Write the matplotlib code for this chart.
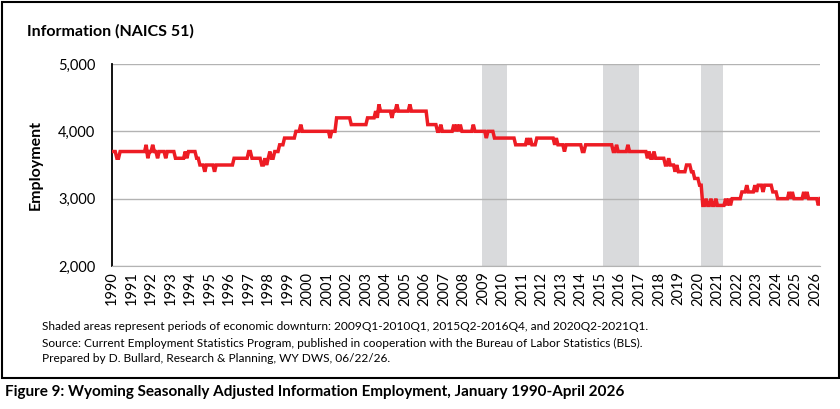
import matplotlib.pyplot as plt
from matplotlib.patches import Rectangle

plt.rcParams['font.family'] = ['Lato', 'DejaVu Sans']

# monthly employment, Jan 1990 - Apr 2026 (one list per year)
emp_by_year = {
    1990: [3700, 3700, 3700, 3600, 3600, 3700, 3700, 3700, 3700, 3700, 3700, 3700],
    1991: [3700, 3700, 3700, 3700, 3700, 3700, 3700, 3700, 3700, 3800, 3600, 3700],
    1992: [3700, 3800, 3700, 3700, 3600, 3700, 3700, 3700, 3700, 3600, 3700, 3700],
    1993: [3700, 3700, 3700, 3600, 3600, 3600, 3600, 3600, 3600, 3700, 3600, 3700],
    1994: [3700, 3700, 3700, 3700, 3600, 3600, 3500, 3500, 3500, 3400, 3500, 3500],
    1995: [3500, 3500, 3500, 3400, 3500, 3500, 3500, 3500, 3500, 3500, 3500, 3500],
    1996: [3500, 3500, 3500, 3600, 3600, 3600, 3600, 3600, 3600, 3600, 3600, 3600],
    1997: [3700, 3700, 3600, 3600, 3600, 3600, 3600, 3600, 3500, 3500, 3600, 3500],
    1998: [3600, 3700, 3600, 3600, 3700, 3700, 3700, 3800, 3800, 3800, 3900, 3900],
    1999: [3900, 3900, 3900, 3900, 3900, 4000, 4000, 4000, 4100, 4000, 4000, 4000],
    2000: [4000, 4000, 4000, 4000, 4000, 4000, 4000, 4000, 4000, 4000, 4000, 4000],
    2001: [4000, 4000, 3900, 4000, 4000, 4000, 4200, 4200, 4200, 4200, 4200, 4200],
    2002: [4200, 4200, 4200, 4100, 4100, 4100, 4100, 4100, 4100, 4100, 4100, 4100],
    2003: [4100, 4200, 4200, 4200, 4200, 4200, 4300, 4200, 4400, 4300, 4300, 4300],
    2004: [4300, 4300, 4300, 4300, 4200, 4300, 4300, 4400, 4300, 4300, 4300, 4300],
    2005: [4300, 4300, 4300, 4400, 4300, 4300, 4300, 4300, 4300, 4300, 4300, 4300],
    2006: [4300, 4300, 4100, 4100, 4100, 4100, 4100, 4100, 4000, 4000, 4100, 4000],
    2007: [4000, 4000, 4000, 4000, 4000, 4000, 4100, 4000, 4100, 4000, 4100, 4000],
    2008: [4000, 4000, 4000, 4000, 4000, 4000, 4100, 4000, 4000, 4000, 4000, 4000],
    2009: [4000, 4000, 3900, 4000, 4000, 4000, 4000, 3900, 3900, 3900, 3900, 3900],
    2010: [3900, 3900, 3900, 3900, 3900, 3900, 3900, 3900, 3800, 3800, 3800, 3800],
    2011: [3800, 3800, 3800, 3900, 3800, 3900, 3800, 3800, 3800, 3900, 3900, 3900],
    2012: [3900, 3900, 3900, 3900, 3900, 3900, 3900, 3900, 3800, 3900, 3800, 3800],
    2013: [3800, 3800, 3700, 3800, 3800, 3800, 3800, 3800, 3800, 3800, 3800, 3800],
    2014: [3800, 3700, 3700, 3800, 3800, 3800, 3800, 3800, 3800, 3800, 3800, 3800],
    2015: [3800, 3800, 3800, 3800, 3800, 3800, 3800, 3800, 3700, 3700, 3800, 3700],
    2016: [3700, 3700, 3700, 3700, 3700, 3800, 3700, 3700, 3700, 3700, 3700, 3700],
    2017: [3700, 3700, 3700, 3700, 3700, 3600, 3700, 3600, 3600, 3700, 3600, 3600],
    2018: [3600, 3600, 3600, 3600, 3500, 3500, 3600, 3500, 3500, 3500, 3400, 3500],
    2019: [3400, 3400, 3400, 3400, 3400, 3500, 3500, 3500, 3400, 3400, 3300, 3300],
    2020: [3300, 3200, 3200, 2900, 2900, 3000, 2900, 2900, 3000, 2900, 2900, 3000],
    2021: [2900, 2900, 2900, 2900, 2900, 3000, 2900, 3000, 2900, 3000, 3000, 3000],
    2022: [3000, 3000, 3000, 3100, 3100, 3100, 3200, 3100, 3100, 3100, 3100, 3200],
    2023: [3100, 3200, 3200, 3200, 3100, 3200, 3200, 3200, 3200, 3200, 3100, 3100],
    2024: [3100, 3000, 3000, 3000, 3000, 3000, 3000, 3000, 3100, 3000, 3100, 3000],
    2025: [3000, 3000, 3000, 3000, 3000, 3100, 3000, 3100, 3000, 3000, 3000, 3000],
    2026: [3000, 3000, 2900, 3000],
}

# shaded downturn bands (start, end) in fractional years, as drawn
downturns = [(2008.92, 2010.2), (2015.15, 2016.97), (2020.17, 2021.3)]

year_ticks = list(range(1990, 2027))
y_ticks = [2000, 3000, 4000, 5000]

notes = [
    "Shaded areas represent periods of economic downturn: 2009Q1-2010Q1, 2015Q2-2016Q4, and 2020Q2-2021Q1.",
    "Source: Current Employment Statistics Program, published in cooperation with the Bureau of Labor Statistics (BLS).",
    "Prepared by D. Bullard, Research & Planning, WY DWS, 06/22/26.",
]

t = []
emp = []
for ano in sorted(emp_by_year):
    for m, v in enumerate(emp_by_year[ano]):
        t.append(ano + m / 12)
        emp.append(v)

fig = plt.figure(figsize=(8.4, 4.09), dpi=100)
ax = fig.add_axes([112 / 840, 1 - 266 / 409, (820 - 112) / 840, (266 - 64) / 409])

for ini, fim in downturns:
    ax.axvspan(ini, fim, color='#d9dadc', lw=0, zorder=1)

ax.plot(t, emp, color='#ed1c24', lw=2.5, zorder=3, solid_joinstyle='miter')

ax.set_xlim(t[0], t[-1])
ax.set_ylim(2000, 5000)
ax.set_yticks(y_ticks)
ax.set_yticklabels([f"{v:,}" for v in y_ticks], fontsize=10.5)
ax.set_xticks(year_ticks)
ax.set_xticklabels([str(a) for a in year_ticks], rotation=90, fontsize=10.5)
ax.tick_params(axis='both', length=0, colors='#000000')
ax.tick_params(axis='y', pad=12)
ax.tick_params(axis='x', pad=4)

ax.set_axisbelow('line')
ax.grid(axis='y', color='#b3b3b3', lw=1.0)
ax.spines['top'].set_visible(False)
ax.spines['right'].set_visible(False)
ax.spines['bottom'].set_color('#b3b3b3')
ax.spines['left'].set_color('#000000')
ax.spines['left'].set_linewidth(1.3)

ax.set_ylabel('Employment', fontsize=11.5, fontweight='bold', labelpad=11)

fig.text(27 / 840, 1 - 31 / 409, 'Information (NAICS 51)', fontsize=11.5,
         fontweight='bold', va='center', ha='left')

for i, linha in enumerate(notes):
    fig.text(42 / 840, 1 - (327 + 16 * i) / 409, linha, fontsize=8.6,
             va='center', ha='left')

fig.patches.append(Rectangle((2 / 840, 1 - 378 / 409), 837 / 840, 376 / 409,
                             transform=fig.transFigure, fill=False,
                             edgecolor='black', lw=1.5))

fig.text(5 / 840, 1 - 392 / 409,
         'Figure 9: Wyoming Seasonally Adjusted Information Employment, January 1990-April 2026',
         fontsize=11, fontweight='bold', va='center', ha='left')

plt.savefig('out.png', dpi=100)
plt.close()
